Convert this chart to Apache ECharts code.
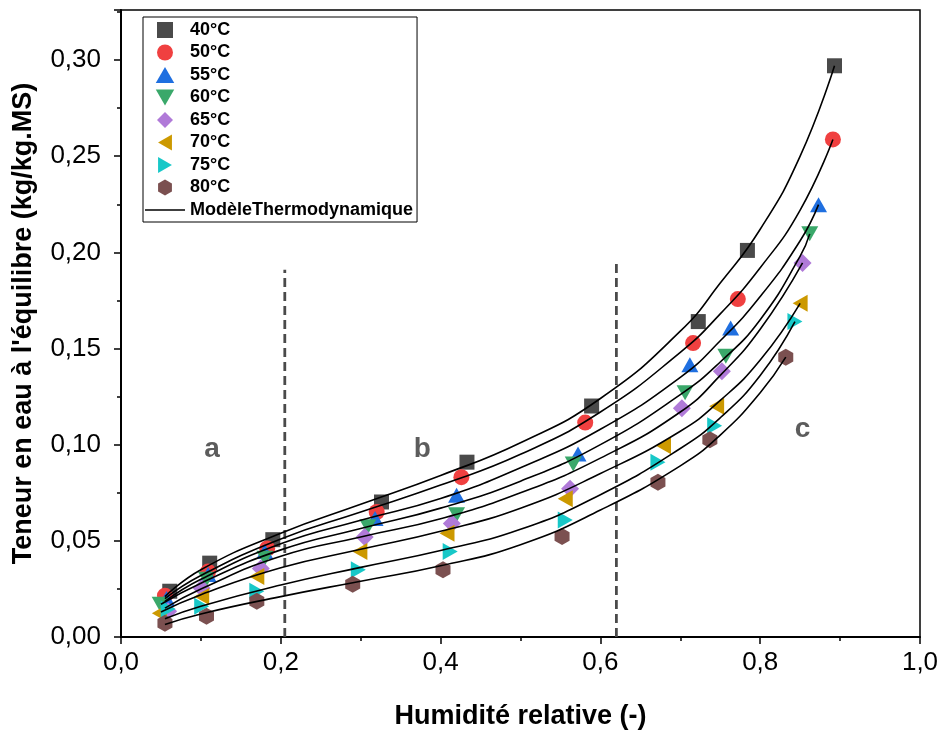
<!DOCTYPE html>
<html>
<head>
<meta charset="utf-8">
<script src="https://cdn.jsdelivr.net/npm/echarts@6/dist/echarts.min.js"></script>
<style>html,body{margin:0;padding:0;background:#fff}#c{width:943px;height:735px}</style>
</head>
<body>
<div id="c"></div>
<script>
// ---- experimental data (relative humidity, equilibrium moisture content) ----
const temps = ['40°C','50°C','55°C','60°C','65°C','70°C','75°C','80°C'];
const hr40 = [0.061,0.111,0.190,0.326,0.433,0.589,0.7225,0.784,0.893];
const w40  = [0.0238,0.0384,0.0506,0.0702,0.0909,0.1201,0.164,0.201,0.297];
const hr50 = [0.055,0.109,0.183,0.320,0.426,0.581,0.716,0.772,0.891];
const w50  = [0.0215,0.034,0.046,0.065,0.0831,0.1115,0.1528,0.1757,0.2587];
const hr55 = [0.057,0.109,0.180,0.318,0.420,0.572,0.712,0.763,0.873];
const w55  = [0.020,0.0325,0.0444,0.0616,0.0737,0.0952,0.1416,0.1606,0.2248];
const hr60 = [0.049,0.107,0.180,0.309,0.420,0.566,0.706,0.757,0.862];
const w60  = [0.017,0.030,0.041,0.0573,0.0635,0.090,0.127,0.146,0.2096];
const hr65 = [0.059,0.101,0.175,0.305,0.414,0.562,0.702,0.752,0.853];
const w65  = [0.0134,0.0253,0.0356,0.052,0.059,0.0771,0.119,0.1382,0.1945];
const hr70 = [0.048,0.101,0.170,0.299,0.408,0.556,0.679,0.7455,0.850];
const w70  = [0.0124,0.021,0.0315,0.0444,0.0539,0.0719,0.0995,0.120,0.1735];
const hr75 = [0.059,0.101,0.170,0.297,0.412,0.556,0.672,0.743,0.8435];
const w75  = [0.0145,0.016,0.0238,0.035,0.0444,0.0608,0.0909,0.1098,0.164];
const hr80 = [0.055,0.107,0.170,0.290,0.403,0.552,0.672,0.737,0.832];
const w80  = [0.0072,0.0108,0.0186,0.0274,0.035,0.0522,0.0805,0.1026,0.1455];

// ---- thermodynamic model curves ----
const mx40 = [0.055,0.1,0.2,0.3,0.4,0.5,0.6,0.7,0.75,0.8,0.85,0.893];
const my40 = [0.021,0.035,0.054,0.069,0.084,0.101,0.124,0.159,0.184,0.212,0.250,0.297];
const mx50 = [0.055,0.1,0.2,0.3,0.4,0.5,0.6,0.7,0.75,0.8,0.85,0.891];
const my50 = [0.020,0.032,0.051,0.065,0.079,0.095,0.117,0.148,0.168,0.192,0.222,0.2587];
const mx55 = [0.055,0.1,0.2,0.3,0.4,0.5,0.6,0.7,0.75,0.8,0.85,0.873];
const my55 = [0.0185,0.030,0.0485,0.0607,0.072,0.088,0.108,0.135,0.154,0.177,0.206,0.2248];
const mx60 = [0.05,0.1,0.2,0.3,0.4,0.5,0.6,0.7,0.75,0.8,0.85,0.862];
const my60 = [0.017,0.028,0.0453,0.0564,0.067,0.081,0.100,0.126,0.143,0.165,0.198,0.2096];
const mx65 = [0.055,0.1,0.2,0.3,0.4,0.5,0.6,0.7,0.75,0.8,0.853];
const my65 = [0.015,0.025,0.042,0.052,0.0615,0.075,0.093,0.117,0.136,0.160,0.1945];
const mx70 = [0.05,0.1,0.2,0.3,0.4,0.5,0.6,0.7,0.75,0.8,0.85];
const my70 = [0.013,0.022,0.036,0.0456,0.055,0.067,0.085,0.107,0.123,0.144,0.1735];
const mx75 = [0.055,0.1,0.2,0.3,0.4,0.5,0.6,0.7,0.75,0.8,0.8435];
const my75 = [0.0095,0.016,0.027,0.0362,0.045,0.056,0.074,0.098,0.114,0.136,0.164];
const mx80 = [0.055,0.1,0.2,0.3,0.4,0.5,0.6,0.7,0.75,0.8,0.832];
const my80 = [0.0065,0.012,0.021,0.029,0.037,0.048,0.066,0.089,0.105,0.127,0.1455];

// ---- zone separators and zone labels ----
const dividerX = [0.205, 0.62];
const dividerTop = [0.191, 0.194];
const zoneNames = ['a','b','c'];
const zoneX = [0.114, 0.377, 0.853];
const zoneY = [0.0976, 0.0976, 0.108];

const modelName = 'ModèleThermodynamique';

const zip = (a,b) => a.map((v,i) => [v, b[i]]);
const hrs = [hr40,hr50,hr55,hr60,hr65,hr70,hr75,hr80];
const ws  = [w40,w50,w55,w60,w65,w70,w75,w80];
const mxs = [mx40,mx50,mx55,mx60,mx65,mx70,mx75,mx80];
const mys = [my40,my50,my55,my60,my65,my70,my75,my80];

const colors = ['#4a4a4a','#f04040','#1f6fe0','#3aa86a','#b07ad8','#cc9900','#18c8c8','#7b5050'];
const symbols = [
  'path://M0,0H1V1H0Z',
  'circle',
  'path://M1,0L2,1.732L0,1.732Z',
  'path://M0,0L2,0L1,1.732Z',
  'path://M1,0L2,1L1,2L0,1Z',
  'path://M0,1L1.732,0L1.732,2Z',
  'path://M0,0L1.732,1L0,2Z',
  'path://M0.866,0L1.732,0.5L1.732,1.5L0.866,2L0,1.5L0,0.5Z'
];
const sizes = [[15,15],16,[17,15],[17,15],[18,18],[15,17],[15,17],[15,17]];

const series = [];
temps.forEach((t,i) => {
  series.push({
    name: t, type: 'scatter', data: zip(hrs[i], ws[i]),
    symbol: symbols[i], symbolSize: sizes[i],
    itemStyle: {color: colors[i], opacity: 1},
    z: 2
  });
});
temps.forEach((t,i) => {
  series.push({
    name: modelName, type: 'line', data: zip(mxs[i], mys[i]),
    smooth: 0.5, symbol: 'none', showSymbol: false,
    lineStyle: {color: '#000', width: 1.6},
    itemStyle: {color: '#000'},
    z: 5, silent: true
  });
});
dividerX.forEach((x,i) => {
  series.push({
    name: 'div' + i, type: 'line', data: [[x,0],[x,dividerTop[i]]],
    symbol: 'none', silent: true,
    lineStyle: {color: '#4a4a4a', width: 2.8, type: [9,5]}, z: 3
  });
});
series.push({
  name: 'zones', type: 'scatter', silent: true,
  data: zoneX.map((x,i) => ({value: [x, zoneY[i]], label: {formatter: zoneNames[i]}})),
  symbolSize: 0,
  label: {show: true, position: 'inside', fontFamily: 'Liberation Sans, Arial, sans-serif',
          fontWeight: 'bold', fontSize: 28, color: '#333'}
});

const legendData = temps.map((t,i) => ({name: t, icon: symbols[i]}));
legendData.push({name: modelName, icon: 'path://M0,0H40V1.6H0Z'});

const chart = echarts.init(document.getElementById('c'), null, {renderer: 'canvas'});
chart.setOption({
  animation: false,
  backgroundColor: '#fff',
  grid: {left: 121, right: 23, top: 10, bottom: 94, show: true,
         borderColor: '#000', borderWidth: 1.5, backgroundColor: 'transparent'},
  legend: {
    data: legendData,
    orient: 'vertical', left: 143, top: 17,
    itemWidth: 40, itemHeight: 16, itemGap: 4.5,
    padding: [4, 4, 3, 2],
    borderColor: '#000', borderWidth: 1, backgroundColor: '#fff',
    textStyle: {fontFamily: 'Liberation Sans, Arial, sans-serif', fontWeight: 'bold', fontSize: 18, color: '#000'},
    selectedMode: false
  },
  xAxis: {
    type: 'value', min: 0, max: 1, interval: 0.2,
    name: 'Humidité relative (-)', nameLocation: 'middle', nameGap: 66,
    nameTextStyle: {fontFamily: 'Liberation Sans, Arial, sans-serif', fontWeight: 'bold', fontSize: 27, color: '#000'},
    axisLine: {lineStyle: {color: '#000', width: 2}},
    axisTick: {show: true, inside: false, length: 7, lineStyle: {color: '#000', width: 1.5}},
    minorTick: {show: true, splitNumber: 2, length: 4, lineStyle: {color: '#000', width: 1.5}},
    splitLine: {show: false},
    axisLabel: {fontFamily: 'Liberation Sans, Arial, sans-serif', fontSize: 26, color: '#000', margin: 13,
                formatter: v => v.toFixed(1).replace('.', ',')}
  },
  yAxis: {
    type: 'value', min: 0, max: 0.326, interval: 0.05,
    name: "Teneur en eau à l'équilibre (kg/kg.MS)", nameLocation: 'middle', nameGap: 84,
    nameTextStyle: {fontFamily: 'Liberation Sans, Arial, sans-serif', fontWeight: 'bold', fontSize: 27, color: '#000'},
    axisLine: {lineStyle: {color: '#000', width: 2}},
    axisTick: {show: true, inside: false, length: 7, lineStyle: {color: '#000', width: 1.5}},
    minorTick: {show: true, splitNumber: 2, length: 4, lineStyle: {color: '#000', width: 1.5}},
    splitLine: {show: false},
    axisLabel: {fontFamily: 'Liberation Sans, Arial, sans-serif', fontSize: 26, color: '#000', margin: 20,
                showMaxLabel: false,
                formatter: v => v.toFixed(2).replace('.', ',')}
  },
  series: series
});
</script>
</body>
</html>
